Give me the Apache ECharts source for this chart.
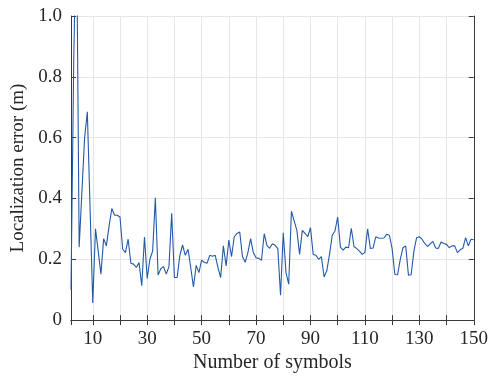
<!DOCTYPE html>
<html>
<head>
<meta charset="utf-8">
<script src="https://cdn.jsdelivr.net/npm/echarts@6/dist/echarts.min.js"></script>
<style>html,body{margin:0;padding:0;background:#fff}#c{width:491px;height:378px}</style>
</head>
<body>
<div id="c"></div>
<script>
var symbols = [];
for (var i = 2; i <= 150; i++) symbols.push(i);
var errors = [
  0.10, 0.85, 1.35, 0.24, 0.42, 0.60, 0.685, 0.37, 0.056,           // 2-10
  0.30, 0.227, 0.151, 0.268, 0.244, 0.31, 0.367, 0.345, 0.345, 0.339, // 11-20
  0.233, 0.222, 0.266, 0.187, 0.184, 0.173, 0.189, 0.113, 0.273, 0.137, // 21-30
  0.20, 0.227, 0.402, 0.148, 0.169, 0.176, 0.151, 0.176, 0.351, 0.14,  // 31-40
  0.14, 0.213, 0.247, 0.213, 0.233, 0.173, 0.109, 0.18, 0.156, 0.197, // 41-50
  0.19, 0.187, 0.213, 0.21, 0.213, 0.173, 0.14, 0.244, 0.178, 0.263,  // 51-60
  0.209, 0.274, 0.285, 0.29, 0.209, 0.19, 0.222, 0.268, 0.222, 0.205, // 61-70
  0.203, 0.197, 0.284, 0.246, 0.236, 0.251, 0.246, 0.235, 0.082, 0.287, // 71-80
  0.156, 0.118, 0.358, 0.326, 0.295, 0.216, 0.295, 0.285, 0.274, 0.304, // 81-90
  0.216, 0.213, 0.20, 0.209, 0.142, 0.162, 0.216, 0.279, 0.293, 0.339, // 91-100
  0.24, 0.23, 0.24, 0.238, 0.302, 0.242, 0.235, 0.227, 0.216, 0.222, // 101-110
  0.30, 0.236, 0.237, 0.274, 0.27, 0.269, 0.27, 0.282, 0.279, 0.235, // 111-120
  0.15, 0.149, 0.20, 0.238, 0.244, 0.148, 0.149, 0.227, 0.271, 0.274, // 121-130
  0.266, 0.252, 0.242, 0.251, 0.259, 0.237, 0.236, 0.257, 0.252, 0.249, // 131-140
  0.238, 0.244, 0.244, 0.222, 0.231, 0.236, 0.271, 0.244, 0.266, 0.264  // 141-150
];
var xLabelValues = [10, 30, 50, 70, 90, 110, 130, 150];
var yTickValues = [0, 0.2, 0.4, 0.6, 0.8, 1.0];

var data = symbols.map(function (s, i) { return [s, errors[i]]; });
var font = 'Liberation Serif';
var boxColor = '#3a3a3a';
var gridColor = '#e6e6e6';

var chart = echarts.init(document.getElementById('c'), null, {renderer: 'canvas'});
var xBase = {
  type: 'value', min: 2, max: 150, minInterval: 10, maxInterval: 10, splitNumber: 15
};
chart.setOption({
  animation: false,
  grid: {left: 71, right: 17, top: 16, bottom: 57, containLabel: false},
  xAxis: [
    Object.assign({}, xBase, {
      position: 'bottom',
      name: 'Number of symbols', nameLocation: 'middle', nameGap: 31,
      nameTextStyle: {fontFamily: font, fontSize: 20, color: '#262626'},
      axisLine: {show: true, lineStyle: {color: boxColor, width: 1}},
      axisTick: {show: true, inside: true, length: 5, lineStyle: {color: boxColor}},
      axisLabel: {
        fontFamily: font, fontSize: 19, color: '#262626', margin: 9,
        showMinLabel: false,
        formatter: function (v) { return xLabelValues.indexOf(v) >= 0 ? String(v) : ''; }
      },
      splitLine: {show: true, lineStyle: {color: gridColor, width: 1}}
    }),
    Object.assign({}, xBase, {
      position: 'top',
      axisLine: {show: true, lineStyle: {color: boxColor, width: 1}},
      axisTick: {show: true, inside: true, length: 5, lineStyle: {color: boxColor}},
      axisLabel: {show: false},
      splitLine: {show: false}
    })
  ],
  yAxis: [
    {
      type: 'value', min: 0, max: 1, interval: 0.2, position: 'left',
      name: 'Localization error (m)', nameLocation: 'middle', nameGap: 42,
      nameTextStyle: {fontFamily: font, fontSize: 19, color: '#262626'},
      axisLine: {show: true, lineStyle: {color: boxColor, width: 1}},
      axisTick: {show: true, inside: true, length: 5, lineStyle: {color: boxColor}},
      axisLabel: {
        fontFamily: font, fontSize: 19, color: '#262626', margin: 9,
        formatter: function (v) {
          for (var k = 0; k < yTickValues.length; k++) {
            if (Math.abs(v - yTickValues[k]) < 1e-9) return v === 0 ? '0' : yTickValues[k].toFixed(1);
          }
          return '';
        }
      },
      splitLine: {show: true, lineStyle: {color: gridColor, width: 1}}
    },
    {
      type: 'value', min: 0, max: 1, interval: 0.2, position: 'right',
      axisLine: {show: true, lineStyle: {color: boxColor, width: 1}},
      axisTick: {show: true, inside: true, length: 5, lineStyle: {color: boxColor}},
      axisLabel: {show: false},
      splitLine: {show: false}
    }
  ],
  series: [{
    type: 'line', xAxisIndex: 0, yAxisIndex: 0, data: data,
    showSymbol: false, symbol: 'none', clip: true,
    lineStyle: {color: '#2459a8', width: 1.1}
  }]
});
</script>
</body>
</html>
